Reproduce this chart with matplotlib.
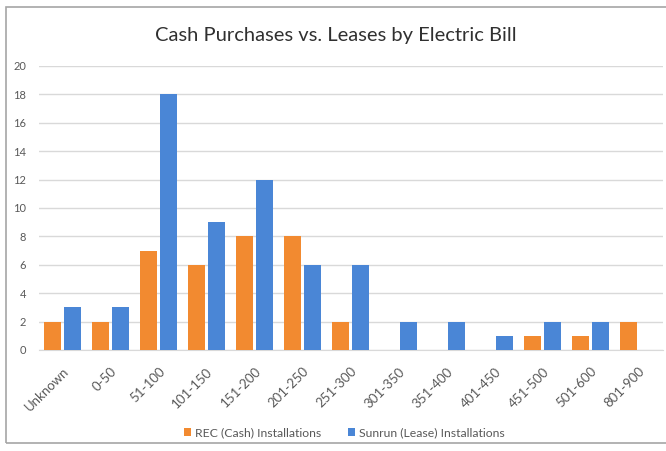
import matplotlib
matplotlib.use("Agg")
import matplotlib.pyplot as plt
from matplotlib.patches import Rectangle
import numpy as np

categories = ["Unknown", "0-50", "51-100", "101-150", "151-200", "201-250",
              "251-300", "301-350", "351-400", "401-450", "451-500",
              "501-600", "801-900"]
cash_installs = [2, 2, 7, 6, 8, 8, 2, 0, 0, 0, 1, 1, 2]
lease_installs = [3, 3, 18, 9, 12, 6, 6, 2, 2, 1, 2, 2, 0]
y_ticks = list(range(0, 21, 2))

plt.rcParams["font.family"] = ["Lato", "DejaVu Sans"]

W, H = 666, 451
fig = plt.figure(figsize=(W / 100, H / 100), dpi=100)
fig.patch.set_facecolor("white")

# outer chart frame
fig.patches.append(Rectangle((6 / W, 1 - 443 / H), 1.0, (443 - 7) / H,
                             transform=fig.transFigure, fill=False,
                             edgecolor="#a6a6a6", linewidth=1.2))

ax = fig.add_axes([38.5 / W, 1 - 350 / H, (662.5 - 38.5) / W, (350 - 66) / H])
x = np.arange(len(categories))
bw = 0.36
off = 0.21
ax.bar(x - off, cash_installs, bw, color="#f28a30", label="REC (Cash) Installations", zorder=3)
ax.bar(x + off, lease_installs, bw, color="#4a86d6", label="Sunrun (Lease) Installations", zorder=3)

ax.set_xlim(-0.5, len(categories) - 0.5)
ax.set_ylim(0, 20)
ax.set_yticks(y_ticks)
ax.set_yticklabels([str(t) for t in y_ticks], fontsize=8, color="#595959")
ax.yaxis.grid(True, color="#d9d9d9", linewidth=1)
ax.set_axisbelow(True)
for s in ["top", "right", "left"]:
    ax.spines[s].set_visible(False)
ax.spines["bottom"].set_color("#d9d9d9")
ax.tick_params(axis="both", length=0)
ax.tick_params(axis="y", pad=9)
ax.set_xticks(x)
ax.set_xticklabels(categories, rotation=45, ha="right", rotation_mode="anchor",
                   fontsize=9.5, color="#595959")
ax.tick_params(axis="x", pad=11)

fig.text(336 / W, 1 - 35 / H, "Cash Purchases vs. Leases by Electric Bill",
         ha="center", va="center", fontsize=14.5, color="#303030")

leg = fig.legend(loc="center", bbox_to_anchor=(344 / W, 1 - 433 / H), ncol=2,
                 frameon=False, fontsize=8.8, handlelength=0.6, handleheight=0.6,
                 handletextpad=0.3, columnspacing=2.2)
for t in leg.get_texts():
    t.set_color("#595959")

fig.savefig("out.png", dpi=100, facecolor="white")
